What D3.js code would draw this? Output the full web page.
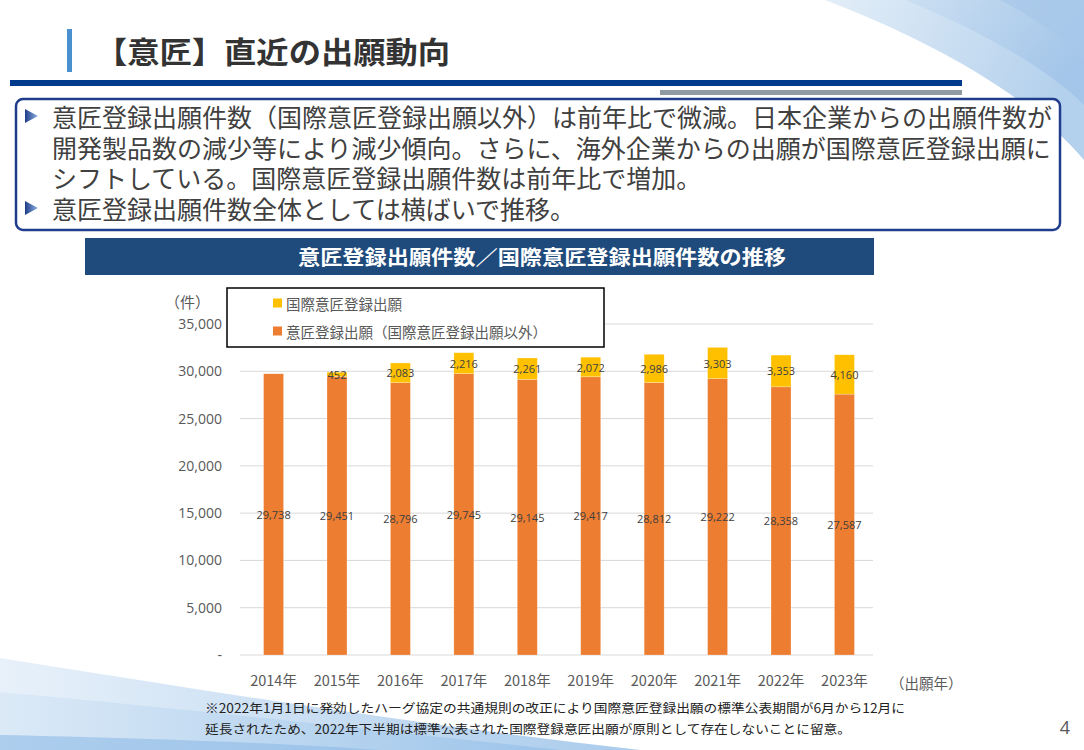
<!DOCTYPE html>
<html>
<head>
<meta charset="utf-8">
<script src="https://cdn.jsdelivr.net/npm/d3@7"></script>
<style>
  html, body { margin: 0; padding: 0; background: #fff; }
  svg { display: block; }
</style>
</head>
<body>
<div id="chart"></div>
<script>
// Chart data
const years = ['2014年', '2015年', '2016年', '2017年', '2018年', '2019年', '2020年', '2021年', '2022年', '2023年'];
const domestic = [29738, 29451, 28796, 29745, 29145, 29417, 28812, 29222, 28358, 27587];
const hague = [0, 452, 2083, 2216, 2261, 2072, 2986, 3303, 3353, 4160];
const yTicks = [0, 5000, 10000, 15000, 20000, 25000, 30000, 35000];
const seriesNames = ['国際意匠登録出願', '意匠登録出願（国際意匠登録出願以外）'];

const bulletLines = [
  { bullet: true, text: '意匠登録出願件数（国際意匠登録出願以外）は前年比で微減。日本企業からの出願件数が' },
  { bullet: false, text: '開発製品数の減少等により減少傾向。さらに、海外企業からの出願が国際意匠登録出願に' },
  { bullet: false, text: 'シフトしている。国際意匠登録出願件数は前年比で増加。' },
  { bullet: true, text: '意匠登録出願件数全体としては横ばいで推移。' }
];
const footnotes = [
  '※2022年1月1日に発効したハーグ協定の共通規則の改正により国際意匠登録出願の標準公表期間が6月から12月に',
  '延長されたため、2022年下半期は標準公表された国際登録意匠出願が原則として存在しないことに留意。'
];

const W = 1084, H = 750;
const JP = '"Noto Sans CJK JP", "Noto Sans", sans-serif';
const NUM = '"Open Sans", "Noto Sans", sans-serif';

const svg = d3.select('#chart').append('svg')
  .attr('width', W).attr('height', H)
  .attr('viewBox', [0, 0, W, H]);

const defs = svg.append('defs');

// gradients for the decorative swooshes
const gTop = defs.append('linearGradient').attr('id', 'gTop')
  .attr('x1', 0).attr('y1', 0).attr('x2', 1).attr('y2', 0.3);
gTop.append('stop').attr('offset', 0).attr('stop-color', '#e3eef8');
gTop.append('stop').attr('offset', 1).attr('stop-color', '#b3d0ec');

const gTop2 = defs.append('linearGradient').attr('id', 'gTop2')
  .attr('x1', 0).attr('y1', 0).attr('x2', 1).attr('y2', 0.5);
gTop2.append('stop').attr('offset', 0).attr('stop-color', '#c9ddf1');
gTop2.append('stop').attr('offset', 1).attr('stop-color', '#9fc3e8');

const gBot = defs.append('linearGradient').attr('id', 'gBot')
  .attr('x1', 0).attr('y1', 0).attr('x2', 1).attr('y2', 0);
gBot.append('stop').attr('offset', 0).attr('stop-color', '#e8f1fa');
gBot.append('stop').attr('offset', 1).attr('stop-color', '#a9cbec');

const gBot2 = defs.append('linearGradient').attr('id', 'gBot2')
  .attr('x1', 0).attr('y1', 0).attr('x2', 1).attr('y2', 0);
gBot2.append('stop').attr('offset', 0).attr('stop-color', '#d4e5f5');
gBot2.append('stop').attr('offset', 1).attr('stop-color', '#8dbbe6');

const gArrow = defs.append('linearGradient').attr('id', 'gArrow')
  .attr('x1', 0).attr('y1', 0).attr('x2', 1).attr('y2', 0);
gArrow.append('stop').attr('offset', 0).attr('stop-color', '#1f3c88');
gArrow.append('stop').attr('offset', 1).attr('stop-color', '#8fb4e3');

// top-right swoosh
svg.append('path')
  .attr('d', 'M825,0 C930,40 1030,95 1084,160 L1084,0 Z')
  .attr('fill', 'url(#gTop)');
svg.append('path')
  .attr('d', 'M905,0 C980,30 1050,70 1084,105 L1084,0 Z')
  .attr('fill', 'url(#gTop2)').attr('opacity', 0.8);
svg.append('path')
  .attr('d', 'M1000,0 C1040,20 1070,45 1084,60 L1084,0 Z')
  .attr('fill', '#a6c7e9').attr('opacity', 0.7);

// bottom-left swoosh
svg.append('path')
  .attr('d', 'M0,658 C200,690 420,725 640,750 L0,750 Z')
  .attr('fill', 'url(#gBot)');
svg.append('path')
  .attr('d', 'M0,692 C220,712 420,735 560,750 L0,750 Z')
  .attr('fill', 'url(#gBot2)').attr('opacity', 0.6);
svg.append('path')
  .attr('d', 'M0,735 C150,738 300,744 380,750 L0,750 Z')
  .attr('fill', '#8dbbe6').attr('opacity', 0.6);

// title
svg.append('rect').attr('x', 67).attr('y', 29).attr('width', 5).attr('height', 43).attr('fill', '#4a8fd0');
svg.append('text')
  .attr('x', 95).attr('y', 50)
  .attr('dominant-baseline', 'central')
  .attr('font-family', JP).attr('font-weight', 'bold').attr('font-size', 30)
  .attr('fill', '#333333')
  .attr('textLength', 355).attr('lengthAdjust', 'spacingAndGlyphs')
  .text('【意匠】直近の出願動向');
svg.append('rect').attr('x', 10).attr('y', 80).attr('width', 952).attr('height', 6).attr('fill', '#003a8c');
svg.append('rect').attr('x', 660).attr('y', 90).attr('width', 302).attr('height', 5).attr('fill', '#8f9aa1');

// summary box
svg.append('rect')
  .attr('x', 16).attr('y', 99).attr('width', 1044).attr('height', 131)
  .attr('rx', 7)
  .attr('fill', '#fff').attr('stroke', '#1f3d8c').attr('stroke-width', 2.5);

const lineY0 = 116, lineGap = 30.7;
bulletLines.forEach((l, i) => {
  const y = lineY0 + i * lineGap;
  if (l.bullet) {
    svg.append('path')
      .attr('d', `M25,${y - 7} L38,${y} L25,${y + 7} Z`)
      .attr('fill', 'url(#gArrow)');
  }
  svg.append('text')
    .attr('x', 52).attr('y', y)
    .attr('dominant-baseline', 'central')
    .attr('font-family', JP).attr('font-size', 25)
    .attr('fill', '#404040')
    .text(l.text);
});

// chart header band
svg.append('rect').attr('x', 85).attr('y', 238).attr('width', 789).attr('height', 37).attr('fill', '#1f4a7c');
svg.append('text')
  .attr('x', 542).attr('y', 256)
  .attr('text-anchor', 'middle').attr('dominant-baseline', 'central')
  .attr('font-family', JP).attr('font-weight', 'bold').attr('font-size', 20)
  .attr('fill', '#ffffff')
  .attr('textLength', 488).attr('lengthAdjust', 'spacingAndGlyphs')
  .text('意匠登録出願件数／国際意匠登録出願件数の推移');

// chart scales
const plot = { left: 242, right: 876, top: 324, bottom: 655 };

const x = d3.scaleBand()
  .domain(years)
  .range([plot.left, plot.right])
  .paddingInner(0.685)
  .paddingOuter(0.34);

const y = d3.scaleLinear()
  .domain([0, 35000])
  .range([plot.bottom, plot.top]);

const g = svg.append('g');

// gridlines
g.selectAll('line.grid')
  .data(yTicks)
  .join('line')
  .attr('class', 'grid')
  .attr('x1', 240).attr('x2', 873)
  .attr('y1', d => y(d)).attr('y2', d => y(d))
  .attr('stroke', '#d9d9d9').attr('stroke-width', 1);

// y axis labels
const yAxis = d3.axisLeft(y)
  .tickValues(yTicks)
  .tickSize(0)
  .tickPadding(0)
  .tickFormat(d => d === 0 ? '-' : d3.format(',')(d));
const yg = g.append('g')
  .attr('transform', 'translate(222,0)')
  .call(yAxis);
yg.select('.domain').remove();
yg.selectAll('text')
  .attr('font-family', NUM).attr('font-size', 14)
  .attr('fill', '#595959');

// x axis labels
const xAxis = d3.axisBottom(x).tickSize(0).tickPadding(0);
const xg = g.append('g')
  .attr('transform', 'translate(0,676)')
  .call(xAxis);
xg.select('.domain').remove();
xg.selectAll('text')
  .attr('font-family', JP).attr('font-size', 14.5)
  .attr('fill', '#595959');

// stacked bars
const rows = years.map((yr, i) => ({ year: yr, domestic: domestic[i], hague: hague[i] }));
const stack = d3.stack().keys(['domestic', 'hague'])(rows);
const colors = { domestic: '#ed7d31', hague: '#ffc000' };

stack.forEach(layer => {
  g.append('g')
    .selectAll('rect')
    .data(layer.filter(d => d[1] > d[0]))
    .join('rect')
    .attr('x', d => x(d.data.year))
    .attr('width', x.bandwidth())
    .attr('y', d => y(d[1]))
    .attr('height', d => y(d[0]) - y(d[1]))
    .attr('fill', colors[layer.key])
    .attr('stroke', '#ffffff').attr('stroke-opacity', 0.4).attr('stroke-width', 0.6);
});

// data labels
stack.forEach(layer => {
  g.append('g')
    .selectAll('text')
    .data(layer.filter(d => d[1] > d[0]))
    .join('text')
    .attr('x', d => x(d.data.year) + x.bandwidth() / 2)
    .attr('y', d => y((d[0] + d[1]) / 2))
    .attr('text-anchor', 'middle').attr('dominant-baseline', 'central')
    .attr('font-family', NUM).attr('font-size', 11)
    .attr('fill', '#404040')
    .text(d => d3.format(',')(d[1] - d[0]));
});

// unit labels
svg.append('text')
  .attr('x', 165).attr('y', 301)
  .attr('dominant-baseline', 'central')
  .attr('font-family', JP).attr('font-size', 15)
  .attr('fill', '#595959')
  .text('（件）');
svg.append('text')
  .attr('x', 890).attr('y', 682)
  .attr('dominant-baseline', 'central')
  .attr('font-family', JP).attr('font-size', 14.5)
  .attr('fill', '#595959')
  .text('（出願年）');

// legend
const lg = svg.append('g');
lg.append('rect')
  .attr('x', 227).attr('y', 288).attr('width', 377).attr('height', 59)
  .attr('fill', '#fff').attr('stroke', '#000').attr('stroke-width', 1.5);
const legendColors = [colors.hague, colors.domestic];
seriesNames.forEach((name, i) => {
  const cy = 303 + i * 28;
  lg.append('rect')
    .attr('x', 273).attr('y', cy - 4.5).attr('width', 9).attr('height', 9)
    .attr('fill', legendColors[i]);
  lg.append('text')
    .attr('x', 286).attr('y', cy)
    .attr('dominant-baseline', 'central')
    .attr('font-family', JP).attr('font-size', 14.5)
    .attr('fill', '#595959')
    .text(name);
});

// footnote
footnotes.forEach((t, i) => {
  svg.append('text')
    .attr('x', 205).attr('y', 707 + i * 21)
    .attr('dominant-baseline', 'central')
    .attr('font-family', JP).attr('font-size', 12.5)
    .attr('fill', '#222222')
    .attr('textLength', i === 0 ? 700 : 646).attr('lengthAdjust', 'spacingAndGlyphs')
    .text(t);
});

// page number
svg.append('text')
  .attr('x', 1065).attr('y', 727)
  .attr('text-anchor', 'middle').attr('dominant-baseline', 'central')
  .attr('font-family', NUM).attr('font-size', 18)
  .attr('fill', '#595959')
  .text('4');
</script>
</body>
</html>
